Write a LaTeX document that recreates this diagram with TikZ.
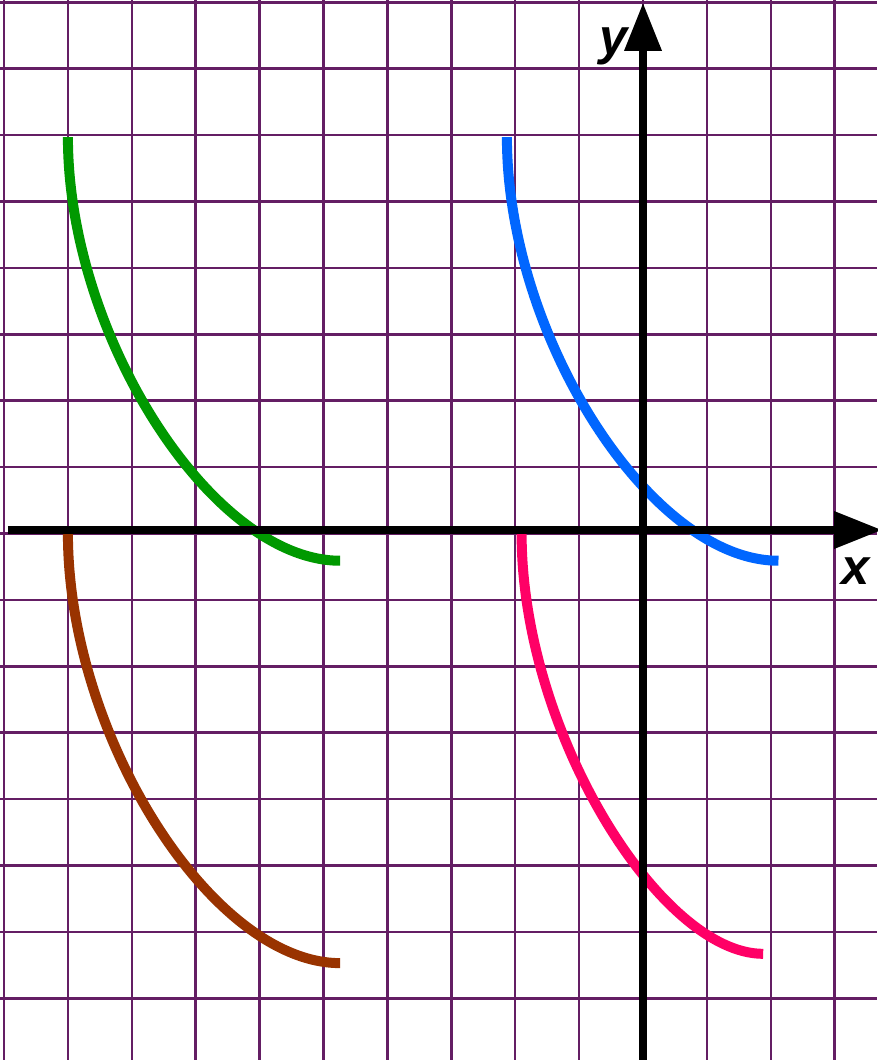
\documentclass[tikz,border=0pt]{standalone}
\usepackage{fontspec}
\setmainfont{Liberation Sans}
\usetikzlibrary{arrows.meta}
\definecolor{gridpurple}{RGB}{100,30,100}
\definecolor{cgreen}{RGB}{0,153,0}
\definecolor{cblue}{RGB}{0,102,255}
\definecolor{cbrown}{RGB}{153,51,0}
\definecolor{cpink}{RGB}{255,0,102}
\begin{document}
\begin{tikzpicture}[x=47.925pt,y=49.8pt,
  gridline/.style={draw=gridpurple,line width=1.9pt},
  axisline/.style={draw=black,line width=5.3pt,-{Triangle[length=36pt,width=27pt]}},
  curve/.style={line width=7.5pt,line cap=butt},
  lbl/.style={font=\fontsize{38}{38}\selectfont\bfseries\itshape,inner sep=0pt}]
\useasboundingbox[fill=white] (-10.063,-7.929) rectangle (3.662,8.035);
% grid
\foreach \i in {-10,...,3} \draw[gridline] (\i,-7.929) -- (\i,8.035);
\foreach \j in {-7,...,8} \draw[gridline] (-10.063,\j) -- (3.662,\j);
% curves
\coordinate (g0) at (-9.0,5.97);  \coordinate (g1) at (-4.74,-0.41);
\coordinate (b0) at (-2.13,5.97);  \coordinate (b1) at (2.12,-0.41);
\coordinate (r0) at (-9.0,0.0);    \coordinate (r1) at (-4.74,-6.47);
\coordinate (p0) at (-1.90,0.0);   \coordinate (p1) at (1.88,-6.33);
\draw[curve,cgreen] (g0) .. controls (-9.0,2.97) and (-6.74,-0.41) .. (g1);
\draw[curve,cblue]  (b0) .. controls (-2.13,2.97) and (0.12,-0.41) .. (b1);
\draw[curve,cbrown] (r0) .. controls (-9.0,-3.05) and (-6.74,-6.47) .. (r1);
\draw[curve,cpink]  (p0) .. controls (-1.90,-3.0) and (0.28,-6.33) .. (p1);
% axes
\coordinate (xl) at (-9.94,0.053); \coordinate (xr) at (3.74,0.053);
\coordinate (yb) at (0,-7.929);    \coordinate (yt) at (0,7.99);
\draw[axisline] (xl) -- (xr);
\draw[axisline] (yb) -- (yt);
% labels
\node[lbl] (ylab) at (-0.454,7.34) {y};
\node[lbl] (xlab) at (3.33,-0.565) {x};
\end{tikzpicture}
\end{document}
